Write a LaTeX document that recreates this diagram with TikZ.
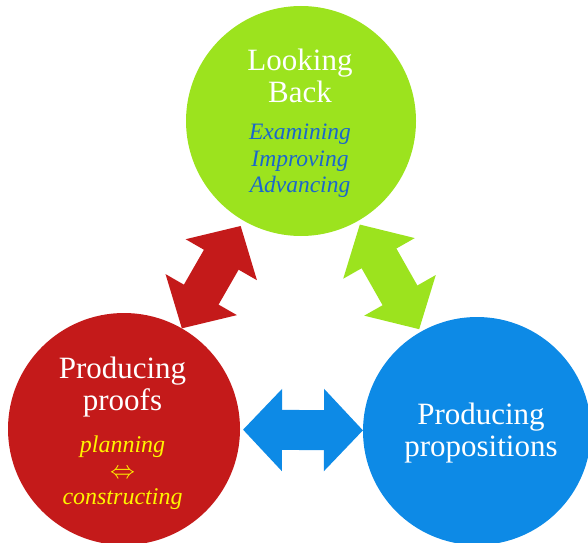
\documentclass[tikz,border=0pt]{standalone}
\usepackage{fontspec}
\setmainfont{Liberation Serif}
\usetikzlibrary{arrows.meta,calc}
\definecolor{lgreen}{HTML}{9CE31E}
\definecolor{cred}{HTML}{C41A1A}
\definecolor{cblue}{HTML}{0D8AE6}
\definecolor{tblue}{HTML}{1A66CC}
\definecolor{tyellow}{HTML}{FFF500}
\begin{document}
\begin{tikzpicture}[x=1pt,y=1pt,
  disc/.style={circle,minimum size=#1,inner sep=0pt,outer sep=0pt,draw=none},
  title/.style={text=white,align=center,inner sep=0pt,font=\fontsize{31}{32}\selectfont},
  sub/.style={text=#1,align=center,inner sep=0pt,font=\fontsize{23.5}{26.5}\selectfont\itshape},
  bigarrow/.style={draw=#1,line width=40pt,{Triangle[length=39pt,width=80pt]}-{Triangle[length=39pt,width=80pt]}}
]
\useasboundingbox (0,0) rectangle (588,542);
\node[disc=230pt,fill=lgreen] (G) at (301,421) {};
\node[disc=232pt,fill=cred] (R) at (124,113) {};
\node[disc=228pt,fill=cblue] (B) at (477,111) {};

\draw[bigarrow=cred, shorten >=6pt] (R) -- (G);
\draw[bigarrow=lgreen, shorten <=4pt, shorten >=3pt] (G) -- (B);
\draw[bigarrow=cblue, shorten <=3pt] (R) -- (B);

\node[title] (gt) at (300,466) {Looking\\Back};
\node[sub=tblue] (gs) at (300,381) {Examining\\Improving\\Advancing};
\node[title] (rt) at (122.5,155) {Producing\\proofs};
\node[sub=tyellow, font=\fontsize{24}{25}\selectfont\itshape] (rs) at (122.5,69) {planning\\[1pt]$\Leftrightarrow$\\[1pt]constructing};
\node[title] (bt) at (481,109) {Producing\\propositions};
\end{tikzpicture}
\end{document}
